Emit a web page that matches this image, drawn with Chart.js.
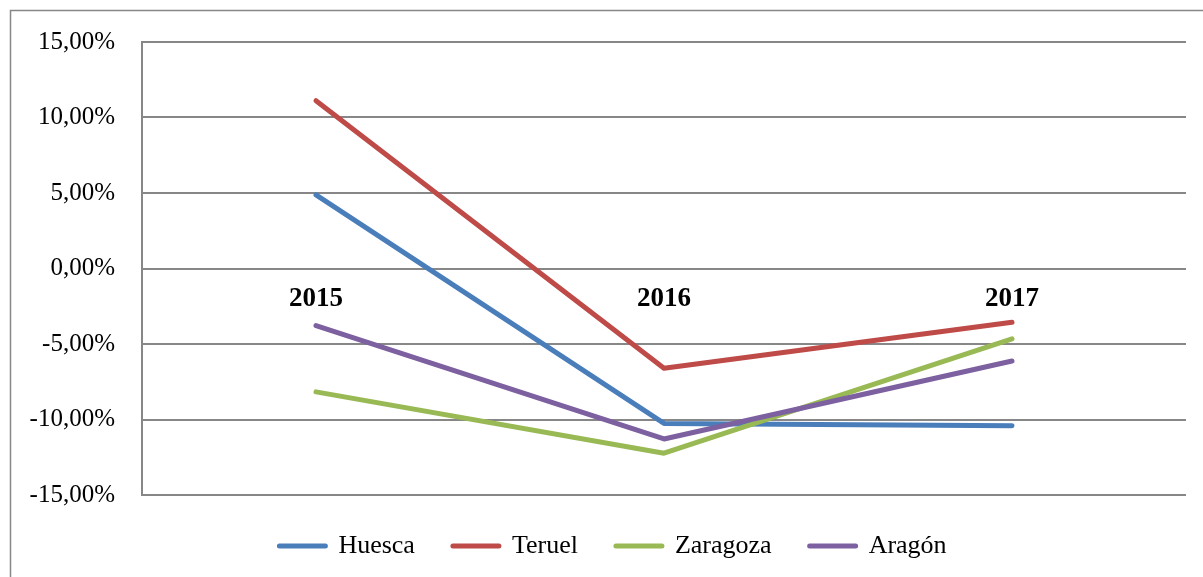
<!DOCTYPE html>
<html>
<head>
<meta charset="utf-8">
<script src="https://cdn.jsdelivr.net/npm/chart.js@4"></script>
<style>
  html, body { margin: 0; padding: 0; background: #fff; }
  #wrap { width: 1203px; height: 577px; }
</style>
</head>
<body>
<div id="wrap"><canvas id="grafico" width="1203" height="577"></canvas></div>
<script>
// Datos
const anios = ['2015', '2016', '2017'];
const huesca = [4.88, -10.26, -10.41];
const teruel = [11.11, -6.61, -3.56];
const zaragoza = [-8.17, -12.23, -4.66];
const aragon = [-3.78, -11.29, -6.13];
const ticksY = [-15, -10, -5, 0, 5, 10, 15];

const gris = '#878787';

// marco exterior (solo borde superior e izquierdo visibles)
const marco = {
    id: 'marco',
    beforeDraw(chart) {
        const ctx = chart.ctx;
        ctx.save();
        ctx.strokeStyle = gris;
        ctx.lineWidth = 1.5;
        ctx.strokeRect(10.5, 10.5, 1300, 700);
        ctx.restore();
    },
    // la leyenda del original está algo desplazada a la derecha
    afterLayout(chart) {
        chart.legend.left += 20;
        chart.legend.right += 20;
    }
};

function serie(label, data, color, orden) {
    return {
        label: label,
        data: data,
        borderColor: color,
        backgroundColor: color,
        borderWidth: 5,
        borderCapStyle: 'round',
        borderJoinStyle: 'round',
        pointRadius: 0,
        tension: 0,
        fill: false,
        order: orden
    };
}

new Chart(document.getElementById('grafico'), {
    type: 'line',
    data: {
        labels: anios,
        datasets: [
            serie('Huesca', huesca, '#4a7ebb', 3),
            serie('Teruel', teruel, '#be4b48', 2),
            serie('Zaragoza', zaragoza, '#98b954', 1),
            serie('Aragón', aragon, '#7d60a0', 0)
        ]
    },
    options: {
        responsive: false,
        animation: false,
        layout: { padding: { left: 0, right: 17, top: 39, bottom: 8 } },
        plugins: {
            tooltip: { enabled: false },
            legend: {
                position: 'bottom',
                labels: {
                    boxWidth: 46,
                    boxHeight: 0,
                    padding: 38,
                    color: '#000',
                    font: { family: 'Liberation Serif', size: 26 },
                    sort: (a, b) => a.datasetIndex - b.datasetIndex
                }
            }
        },
        scales: {
            x: {
                position: { y: 0 },
                offset: true,
                grid: { display: false, drawTicks: false },
                border: { display: false },
                ticks: {
                    color: '#000',
                    padding: 14,
                    maxRotation: 0,
                    font: { family: 'Liberation Serif', size: 27, weight: 'bold' }
                }
            },
            y: {
                min: -15,
                max: 15,
                afterFit(scale) { scale.width = 142; },
                afterBuildTicks(scale) { scale.ticks = ticksY.map(v => ({ value: v })); },
                grid: { color: gris, lineWidth: 2, drawTicks: false },
                border: { display: true, color: gris, width: 2 },
                ticks: {
                    color: '#000',
                    padding: 27,
                    font: { family: 'Liberation Serif', size: 25 },
                    callback: v => v.toFixed(2).replace('.', ',') + '%'
                }
            }
        }
    },
    plugins: [marco]
});
</script>
</body>
</html>
